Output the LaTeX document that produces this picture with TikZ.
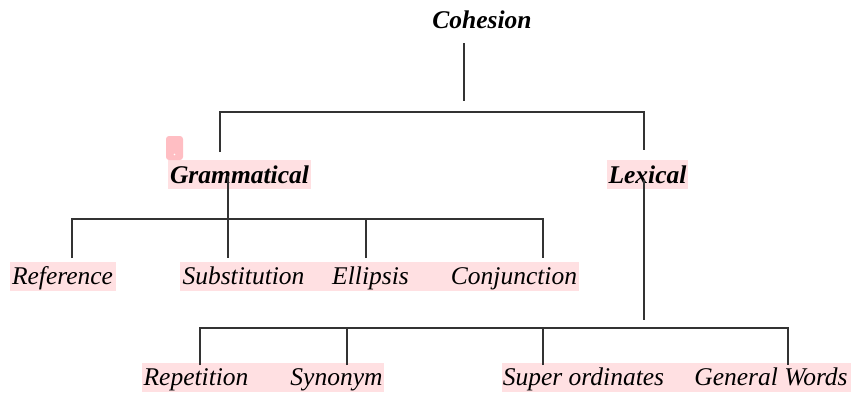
\documentclass[tikz,border=0pt]{standalone}
\usepackage{fontspec}
\setmainfont{Liberation Serif}
\begin{document}
\begin{tikzpicture}[x=1pt,y=-1pt,
  lbl/.style={inner sep=0pt,anchor=base,font=\fontsize{25.5}{30}\selectfont\itshape},
  blbl/.style={lbl,font=\fontsize{25.5}{30}\selectfont\bfseries\itshape},
  hl/.style={fill=hlpink,draw=none},
  br/.style={draw=black!80,line width=1.3pt}]
\definecolor{hlpink}{RGB}{255,224,226}
\definecolor{markpink}{RGB}{255,190,195}
\useasboundingbox (0,0) rectangle (851,392);
% highlights
\fill[hl] (168,160) rectangle (311,189);
\fill[hl] (607,160) rectangle (688,189);
\fill[hl] (10,262) rectangle (116,291);
\fill[hl] (180,262) rectangle (579,291);
\fill[hl] (142,363) rectangle (384,392);
\fill[hl] (502,363) rectangle (851,392);
\fill[markpink,rounded corners=3pt] (166,136) rectangle (183,160);
\fill[white] (174.5,154.5) circle (0.8);
% labels
\node[blbl] (coh) at (482,28.5) {Cohesion};
\node[blbl] (gram) at (239.5,183) {Grammatical};
\node[blbl] (lex) at (647.5,183) {Lexical};
\node[lbl] (ref) at (62.5,284) {Reference};
\node[lbl] (sub) at (243.5,284) {Substitution};
\node[lbl] (ell) at (370.5,284) {Ellipsis};
\node[lbl] (con) at (514,284) {Conjunction};
\node[lbl] (rep) at (196,385) {Repetition};
\node[lbl] (syn) at (336.5,385) {Synonym};
\node[lbl] (sup) at (583.5,385) {Super ordinates};
\node[lbl] (gen) at (771,385) {General Words};
% connector points
\coordinate (c0) at (464,43);
\coordinate (c1) at (464,101);
\coordinate (jl) at (220,112);
\coordinate (jr) at (644,112);
\coordinate (gl) at (220,152);
\coordinate (lr) at (644,150);
\coordinate (g0) at (228,176);
\coordinate (g1) at (228,236);
\coordinate (gm) at (228,219);
\coordinate (ga) at (72,219);
\coordinate (gb) at (543,219);
\coordinate (em) at (366,219);
\coordinate (ra) at (72,258);
\coordinate (sa) at (228,258);
\coordinate (ea) at (366,258);
\coordinate (ca) at (543,258);
\coordinate (l0) at (644,180);
\coordinate (l1) at (644,320);
\coordinate (la) at (200,328);
\coordinate (lb) at (788,328);
\coordinate (ym) at (347,328);
\coordinate (um) at (543,328);
\coordinate (pa) at (200,365);
\coordinate (ya) at (347,365);
\coordinate (ua) at (543,365);
\coordinate (wa) at (788,365);
% connectors
\draw[br] (c0) -- (c1);
\draw[br] (gl) -- (jl) -- (jr) -- (lr);
\draw[br] (g0) -- (g1);
\draw[br,line width=2pt] (gm) -- (g1);
\draw[br] (ra) -- (ga) -- (gb) -- (ca);
\draw[br] (gm) -- (sa);
\draw[br] (ea) -- (em);
\draw[br] (l0) -- (l1);
\draw[br] (pa) -- (la) -- (lb) -- (wa);
\draw[br] (ya) -- (ym);
\draw[br] (ua) -- (um);
\end{tikzpicture}
\end{document}
